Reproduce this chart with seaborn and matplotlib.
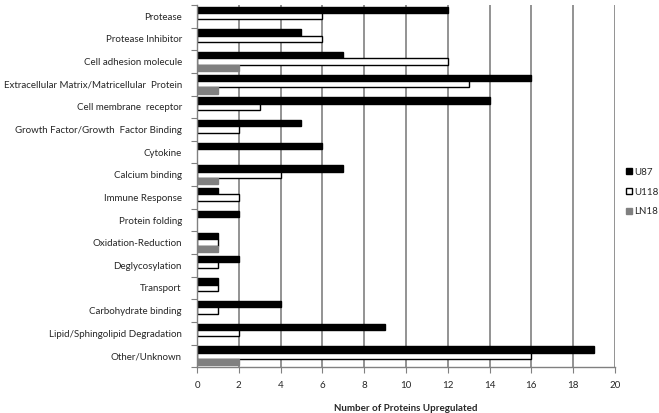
import pandas as pd
import numpy as np
import matplotlib.pyplot as plt
import seaborn as sns
from matplotlib.lines import Line2D

categories = [
    'Protease',
    'Protease Inhibitor',
    'Cell adhesion molecule',
    'Extracellular Matrix/Matricellular  Protein',
    'Cell membrane  receptor',
    'Growth Factor/Growth  Factor Binding',
    'Cytokine',
    'Calcium binding',
    'Immune Response',
    'Protein folding',
    'Oxidation-Reduction',
    'Deglycosylation',
    'Transport',
    'Carbohydrate binding',
    'Lipid/Sphingolipid Degradation',
    'Other/Unknown',
]
u87 = [12, 5, 7, 16, 14, 5, 6, 7, 1, 2, 1, 2, 1, 4, 9, 19]
u118 = [6, 6, 12, 13, 3, 2, 0, 4, 2, 0, 1, 1, 1, 1, 2, 16]
ln18 = [0, 0, 2, 1, 0, 0, 0, 1, 0, 0, 1, 0, 0, 0, 0, 2]
series = ['U87', 'U118', 'LN18']

df = pd.DataFrame({'category': categories, 'U87': u87, 'U118': u118, 'LN18': ln18})
long_df = df.melt(id_vars='category', var_name='line', value_name='count')

sns.set_style('white')
plt.rcParams['font.family'] = ['Lato', 'DejaVu Sans']

fig = plt.figure(figsize=(6.59, 4.13), dpi=100)
ax = fig.add_axes([0.299, 0.111, 0.634, 0.877])

fills = {'U87': '#000000', 'U118': '#ffffff', 'LN18': '#808080'}
edges = {'U87': '#000000', 'U118': '#000000', 'LN18': '#808080'}

sns.barplot(data=long_df, y='category', x='count', hue='line', order=categories,
            hue_order=series, palette=fills, orient='h', width=0.84,
            ax=ax, legend=False, saturation=1)

for cont, name in zip(ax.containers, series):
    for p in cont:
        p.set_edgecolor(edges[name])
        p.set_linewidth(1.0 if p.get_width() > 0 else 0)

ax.set_xlim(0, 20)
ax.set_xticks(np.arange(0, 21, 2))
ax.set_ylim(len(categories) - 0.5, -0.5)
ax.set_yticks(np.arange(len(categories)))
ax.set_yticklabels(categories, fontsize=7)
ax.set_yticks(np.arange(-0.5, len(categories), 1), minor=True)
ax.tick_params(axis='y', which='major', length=0, pad=11)
ax.tick_params(axis='y', which='minor', length=4, width=0.8, color='#808080', left=True)
ax.tick_params(axis='x', length=4, width=0.8, color='#808080', bottom=True, labelsize=7, pad=6)

ax.xaxis.grid(True, color='#808080', linewidth=1.2)
ax.yaxis.grid(False)
ax.set_axisbelow(True)
for s in ['top', 'right']:
    ax.spines[s].set_visible(False)
for s in ['left', 'bottom']:
    ax.spines[s].set_color('#808080')
    ax.spines[s].set_linewidth(1.0)

ax.set_ylabel('')
ax.set_xlabel('Number of Proteins Upregulated', fontsize=7, fontweight='bold', labelpad=10)

handles = [Line2D([], [], marker='s', linestyle='', markersize=5,
                  markerfacecolor=fills[n], markeredgecolor=edges[n], markeredgewidth=1)
           for n in series]
fig.legend(handles, series, loc='center left', bbox_to_anchor=(0.942, 0.535),
           frameon=False, fontsize=7, handletextpad=0.2, labelspacing=1.1,
           handlelength=0.8, borderaxespad=0)

fig.savefig('out.png', dpi=100)
